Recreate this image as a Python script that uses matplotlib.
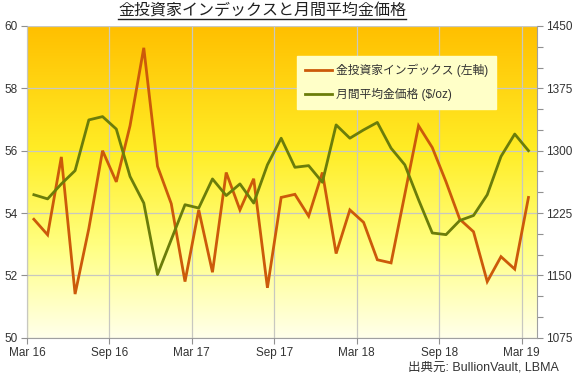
import matplotlib
matplotlib.use("Agg")
import matplotlib.pyplot as plt
import numpy as np
from matplotlib.colors import LinearSegmentedColormap
from matplotlib.lines import Line2D
from matplotlib.ticker import MultipleLocator

plt.rcParams['font.family'] = ['Liberation Sans', 'Noto Sans CJK JP', 'DejaVu Sans']

# Months Mar 2016 .. Mar 2019
months = ["2016-03", "2016-04", "2016-05", "2016-06", "2016-07", "2016-08", "2016-09",
          "2016-10", "2016-11", "2016-12", "2017-01", "2017-02", "2017-03", "2017-04",
          "2017-05", "2017-06", "2017-07", "2017-08", "2017-09", "2017-10", "2017-11",
          "2017-12", "2018-01", "2018-02", "2018-03", "2018-04", "2018-05", "2018-06",
          "2018-07", "2018-08", "2018-09", "2018-10", "2018-11", "2018-12", "2019-01",
          "2019-02", "2019-03"]

investor_index = [53.8, 53.3, 55.8, 51.4, 53.5, 56.0, 55.0, 56.8, 59.3, 55.5, 54.3, 51.8,
                  54.1, 52.1, 55.3, 54.1, 55.1, 51.6, 54.5, 54.6, 53.9, 55.3, 52.7, 54.1,
                  53.7, 52.5, 52.4, 54.6, 56.8, 56.1, 55.0, 53.8, 53.4, 51.8, 52.6, 52.2,
                  54.5]

gold_price = [1247, 1242, 1260, 1276, 1337, 1341, 1326, 1269, 1237, 1151, 1193, 1235,
              1231, 1266, 1246, 1260, 1237, 1283, 1315, 1280, 1282, 1262, 1331, 1315,
              1325, 1334, 1303, 1283, 1241, 1201, 1199, 1216, 1222, 1247, 1293, 1320,
              1300]

xtick_labels = ["Mar 16", "Sep 16", "Mar 17", "Sep 17", "Mar 18", "Sep 18", "Mar 19"]

title = "金投資家インデックスと月間平均金価格"
label_index = "金投資家インデックス (左軸)"
label_gold = "月間平均金価格 ($/oz)"
source = "出典元: BullionVault, LBMA"

orange = "#CC5A0A"
green = "#6B7D0A"
tick_color = "#333333"

fig = plt.figure(figsize=(5.76, 3.75), dpi=100)
fig.patch.set_facecolor("white")
L, R, B, T = 27 / 576, 536.7 / 576, 1 - 337.7 / 375, 1 - 26 / 375
ax = fig.add_axes([L, B, R - L, T - B])

x = np.arange(len(months)) + 0.5

# gradient background
cmap = LinearSegmentedColormap.from_list(
    "bg", [(0.0, (1.0, 0.75, 0.0)), (0.4, (1.0, 0.93, 0.15)),
           (0.7, (1.0, 1.0, 0.5)), (1.0, (1.0, 1.0, 0.92))])
grad = np.linspace(0, 1, 256).reshape(-1, 1)
ax.imshow(grad, cmap=cmap, aspect="auto", extent=[0, 1, 0, 1],
          transform=ax.transAxes, zorder=0, interpolation="bicubic")

ax.plot(x, investor_index, color=orange, lw=2.0, zorder=3, solid_joinstyle="miter")
ax.set_xlim(0, 37.1)
ax.set_ylim(50, 60)
ax.set_yticks([50, 52, 54, 56, 58, 60])
ax.set_xticks(np.arange(0, 37, 6))
ax.set_xticklabels(xtick_labels)
ax.grid(True, color="#C8C8C0", lw=0.9, zorder=1)
ax.set_axisbelow(False)
for gl in ax.get_xgridlines() + ax.get_ygridlines():
    gl.set_zorder(1)

ax2 = ax.twinx()
ax2.plot(x, gold_price, color=green, lw=2.0, zorder=3)
ax2.set_ylim(1075, 1450)
ax2.set_yticks(np.arange(1075, 1451, 75))
ax2.yaxis.set_minor_locator(MultipleLocator(25))

for a in (ax, ax2):
    for s in a.spines.values():
        s.set_visible(False)
ax.spines['left'].set_visible(True)
ax.spines['left'].set_color("#A0A0A0")
ax.spines['bottom'].set_visible(True)
ax.spines['bottom'].set_color("#A0A0A0")
ax2.spines['right'].set_visible(True)
ax2.spines['right'].set_color("#A0A0A0")

ax.tick_params(axis="both", labelsize=8.5, colors="#909090", labelcolor=tick_color,
               length=4, width=0.8, pad=3)
ax2.tick_params(axis="y", which="major", labelsize=8.5, colors="#909090",
                labelcolor=tick_color, length=4, width=0.8, pad=3)
ax2.tick_params(axis="y", which="minor", colors="#909090", length=4, width=0.8)

handles = [Line2D([], [], color=orange, lw=2.0), Line2D([], [], color=green, lw=2.0)]
leg = ax2.legend(handles, [label_index, label_gold], loc="upper left",
                 bbox_to_anchor=(0.529, 0.905), fontsize=8.5, frameon=True,
                 fancybox=False, handlelength=2.3, handletextpad=0.3,
                 labelspacing=0.9, borderpad=0.7, borderaxespad=0)
leg.get_frame().set_facecolor("#FFFFC8")
leg.get_frame().set_edgecolor("#FFFFC8")
leg.get_frame().set_alpha(1)
for t in leg.get_texts():
    t.set_color(tick_color)

ttl = fig.text(262 / 576, 1 - 11.5 / 375, title, ha="center", va="center",
               fontsize=11.5, color="#202020")
fig.text(559 / 576, 1 - 367 / 375, source, ha="right", va="center",
         fontsize=9, color=tick_color)

fig.canvas.draw()
bb = ttl.get_window_extent()
inv = fig.transFigure.inverted()
(x0, y0), (x1, y1) = inv.transform([(bb.x0, bb.y0 + 0.5), (bb.x1, bb.y0 + 0.5)])
fig.add_artist(Line2D([x0, x1], [y0, y1], transform=fig.transFigure,
                      color="#202020", lw=1.0))

fig.savefig("out.png", dpi=100)
